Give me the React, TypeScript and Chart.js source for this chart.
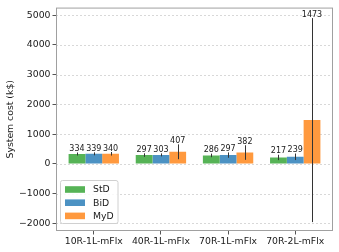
import React, { useEffect, useRef } from 'react';
import { Chart, registerables } from 'chart.js';
Chart.register(...registerables);

const categories = ['10R-1L-mFlx', '40R-1L-mFlx', '70R-1L-mFlx', '70R-2L-mFlx'];
const seriesNames = ['StD', 'BiD', 'MyD'];
const stdValues = [334, 297, 286, 217];
const bidValues = [339, 303, 297, 239];
const mydValues = [340, 407, 382, 1473];
const stdErr = [50, 60, 60, 90];
const bidErr = [50, 50, 90, 110];
const mydErr = [60, 250, 245, 3430];
const yTicks = [-2000, -1000, 0, 1000, 2000, 3000, 4000, 5000];
const colors = ['#56b356', '#4c92c3', '#ff993e'];

const FONT = "'DejaVu Sans', sans-serif";

export default function App() {
  const ref = useRef<HTMLCanvasElement>(null);
  useEffect(() => {
    document.body.style.margin = '0';
    const values = [stdValues, bidValues, mydValues];
    const errs = [stdErr, bidErr, mydErr];

    const plugin = {
      id: 'custom',
      beforeDatasetsDraw(chart: any) {
        const { ctx, chartArea: a, scales } = chart;
        const y = scales.y;
        ctx.save();
        ctx.strokeStyle = '#cfcfcf';
        ctx.lineWidth = 0.8;
        ctx.setLineDash([2, 2]);
        yTicks.forEach((t) => {
          const py = Math.round(y.getPixelForValue(t)) + 0.5;
          ctx.beginPath();
          ctx.moveTo(a.left, py);
          ctx.lineTo(a.right, py);
          ctx.stroke();
        });
        ctx.restore();
      },
      afterDatasetsDraw(chart: any) {
        const { ctx, chartArea: a, scales } = chart;
        const y = scales.y;
        ctx.save();
        // error bars
        ctx.strokeStyle = '#333333';
        ctx.lineWidth = 1;
        values.forEach((vals, i) => {
          const meta = chart.getDatasetMeta(i);
          vals.forEach((v, j) => {
            const el = meta.data[j];
            const x = Math.round(el.x) + 0.5;
            ctx.beginPath();
            ctx.moveTo(x, y.getPixelForValue(v + errs[i][j]));
            ctx.lineTo(x, y.getPixelForValue(v - errs[i][j]));
            ctx.stroke();
          });
        });
        // value labels
        ctx.fillStyle = '#1a1a1a';
        ctx.font = `8px ${FONT}`;
        ctx.textAlign = 'center';
        ctx.textBaseline = 'alphabetic';
        values.forEach((vals, i) => {
          const meta = chart.getDatasetMeta(i);
          vals.forEach((v, j) => {
            const el = meta.data[j];
            const top = y.getPixelForValue(v + errs[i][j]);
            ctx.fillText(String(v), el.x, top - 1.5);
          });
        });
        // frame
        ctx.strokeStyle = '#a0a0a0';
        ctx.lineWidth = 1;
        ctx.strokeRect(a.left + 0.5, a.top + 0.5, a.right - a.left - 1, a.bottom - a.top - 1);
        // legend
        const lx = 60.5, ly = 180.5, lw = 57.5, lh = 43;
        ctx.beginPath();
        (ctx as any).roundRect(lx, ly, lw, lh, 2);
        ctx.fillStyle = 'rgba(255,255,255,0.85)';
        ctx.fill();
        ctx.strokeStyle = '#d0d0d0';
        ctx.stroke();
        const rows = [189.5, 202.7, 215.9];
        ctx.font = `9.3px ${FONT}`;
        ctx.textAlign = 'left';
        ctx.textBaseline = 'middle';
        seriesNames.forEach((n, i) => {
          ctx.fillStyle = colors[i];
          ctx.fillRect(65, rows[i] - 3.3, 20, 6.6);
          ctx.fillStyle = '#1a1a1a';
          ctx.fillText(n, 93, rows[i] + 0.5);
        });
        // y title
        ctx.translate(10.5, (a.top + a.bottom) / 2);
        ctx.rotate(-Math.PI / 2);
        ctx.textAlign = 'center';
        ctx.textBaseline = 'middle';
        ctx.font = `9.3px ${FONT}`;
        ctx.fillStyle = '#1a1a1a';
        ctx.fillText('System cost (k$)', 0, 0);
        ctx.restore();
      },
    };

    const chart = new Chart(ref.current!, {
      type: 'bar',
      data: {
        datasets: seriesNames.map((n, i) => ({
          label: n,
          data: values[i].map((v, j) => ({ x: j, y: v })),
          backgroundColor: colors[i],
          borderWidth: 0,
          categoryPercentage: 0.75,
          barPercentage: 1,
        })),
      },
      options: {
        responsive: false,
        animation: false,
        devicePixelRatio: 1,
        layout: { padding: { left: 0, right: 6, top: 5, bottom: 0 } },
        plugins: { legend: { display: false }, tooltip: { enabled: false } },
        scales: {
          x: {
            type: 'linear',
            offset: false,
            min: -0.5625,
            max: 3.5625,
            afterBuildTicks: (s: any) => {
              s.ticks = categories.map((_, i) => ({ value: i }));
            },
            afterFit: (s: any) => {
              s.height = 21;
            },
            grid: { offset: false, drawOnChartArea: false, drawTicks: true, tickLength: 3.5, tickColor: '#555555' },
            border: { display: false },
            ticks: {
              autoSkip: false,
              maxRotation: 0,
              padding: 1.5,
              color: '#1a1a1a',
              font: { family: FONT, size: 9.3 },
              callback: (v: any) => categories[v as number] ?? '',
            },
          },
          y: {
            min: -2256,
            max: 5256,
            afterBuildTicks: (s: any) => {
              s.ticks = yTicks.map((v) => ({ value: v }));
            },
            afterFit: (s: any) => {
              s.width = 56;
            },
            grid: { drawOnChartArea: false, drawTicks: true, tickLength: 3.5, tickColor: '#555555' },
            border: { display: false },
            ticks: {
              padding: 2,
              color: '#1a1a1a',
              font: { family: FONT, size: 9.3 },
              callback: (v: any) => (v < 0 ? '\u2212' + Math.abs(v) : String(v)),
            },
          },
        },
      },
      plugins: [plugin],
    } as any);
    return () => chart.destroy();
  }, []);
  return <canvas ref={ref} width={339} height={252} style={{ display: 'block' }} />;
}
